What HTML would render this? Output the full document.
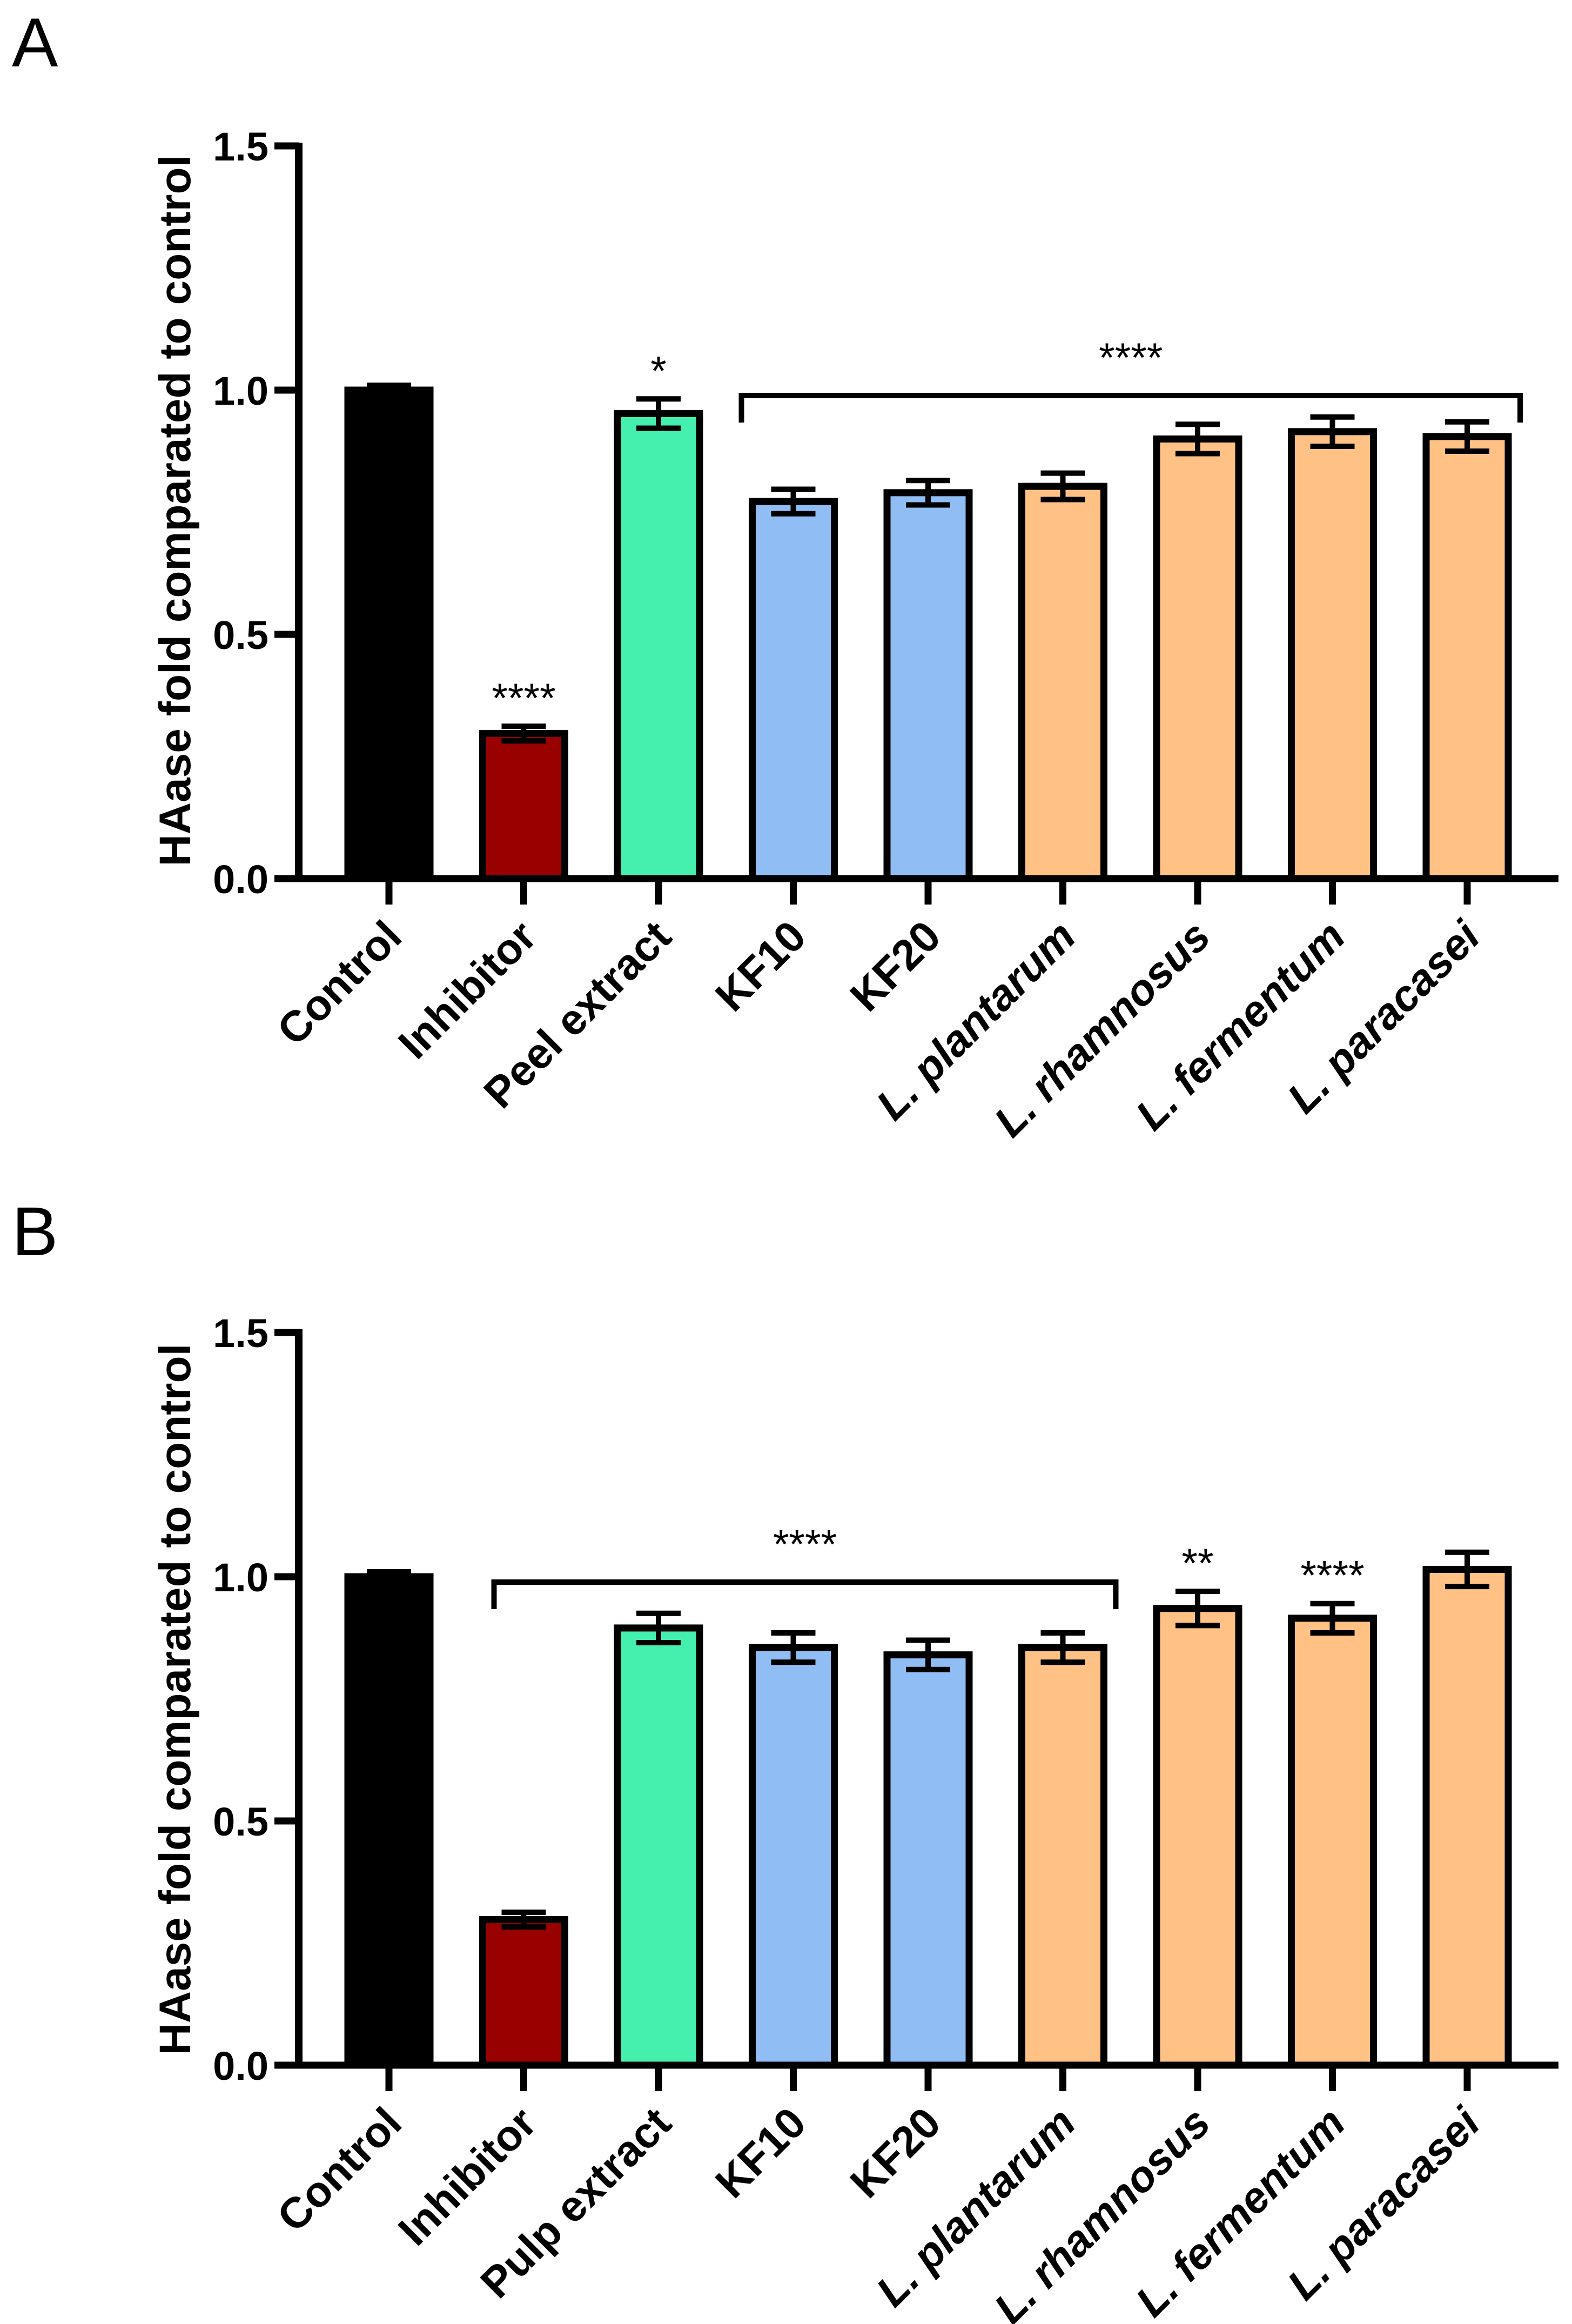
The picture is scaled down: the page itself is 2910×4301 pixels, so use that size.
<!DOCTYPE html>
<html><head><meta charset="utf-8"><style>
html,body{margin:0;padding:0;background:#fff;}
svg{display:block;}
text{font-family:"Liberation Sans",Arial,sans-serif;}
</style></head><body>
<svg id="fig" width="2910" height="4301" viewBox="0 0 2910 4301" xmlns="http://www.w3.org/2000/svg">
<rect width="2910" height="4301" fill="#fff"/>
<text x="22" y="123" font-size="128">A</text>
<text x="22" y="2323" font-size="128">B</text>
</svg>
<script>
const categoriesA = ["Control","Inhibitor","Peel extract","KF10","KF20","L. plantarum","L. rhamnosus","L. fermentum","L. paracasei"];
const categoriesB = ["Control","Inhibitor","Pulp extract","KF10","KF20","L. plantarum","L. rhamnosus","L. fermentum","L. paracasei"];
const italicFlags = [false,false,false,false,false,true,true,true,true];
const valuesA = [1.0,0.297,0.952,0.772,0.79,0.803,0.9,0.915,0.905];
const errorsA = [0.01,0.015,0.03,0.025,0.025,0.027,0.03,0.03,0.03];
const valuesB = [1.0,0.298,0.895,0.855,0.84,0.855,0.935,0.915,1.015];
const errorsB = [0.01,0.015,0.03,0.03,0.03,0.03,0.035,0.03,0.035];
const barColors = ["#000000","#990000","#45EFAE","#90BDF4","#90BDF4","#FFC184","#FFC184","#FFC184","#FFC184"];
const yTicks = [0,0.5,1.0,1.5];
const yTickLabels = ["0.0","0.5","1.0","1.5"];
const sigA = [{i:1,t:"****"},{i:2,t:"*"}];
const bracketA = {from:3,to:8,level:1.0,t:"****"};
const sigB = [{i:6,t:"**"},{i:7,t:"****"}];
const bracketB = {from:1,to:5,level:1.0,t:"****"};

const NS="http://www.w3.org/2000/svg";
const svg=document.getElementById('fig');
function mk(tag,attrs,parent){const e=document.createElementNS(NS,tag);for(const k in attrs)e.setAttribute(k,attrs[k]);(parent||svg).appendChild(e);return e;}

function drawPanel(id,y0,cats,vals,errs,sig,br,titleCy,brL,brR){
  const K=904;
  const yS=v=>y0-v*K;
  const xS=i=>720+i*249.5;
  const g=mk('g',{});
  
  
  vals.forEach((v,i)=>{
    const w=152;
    const r=mk('rect',{x:xS(i)-w/2,y:yS(v),width:w,height:y0-yS(v),fill:barColors[i],stroke:'#000','stroke-width':13},g);
    
    
    const e=errs[i],cx=xS(i);
    const eb=mk('path',{d:`M${cx-41} ${yS(v+e)}H${cx+41}M${cx} ${yS(v+e)}V${yS(v-e)}M${cx-41} ${yS(v-e)}H${cx+41}`,stroke:'#000','stroke-width':10,fill:'none'},g);
    
    
  });
  const ya=mk('line',{x1:553,y1:yS(1.5)-6,x2:553,y2:y0+6,stroke:'#000','stroke-width':14},g);
  
  
  const xa=mk('line',{x1:546,y1:y0,x2:2885,y2:y0,stroke:'#000','stroke-width':13},g);
  
  
  yTicks.forEach((t,j)=>{
    mk('line',{x1:508,y1:yS(t),x2:553,y2:yS(t),stroke:'#000','stroke-width':13},g);
    const tl=mk('text',{x:497,y:yS(t)+27,'font-size':74,'font-weight':'bold','text-anchor':'end'},g);
    tl.textContent=yTickLabels[j];
    
    
  });
  cats.forEach((c,i)=>{
    mk('line',{x1:xS(i),y1:y0,x2:xS(i),y2:y0+48,stroke:'#000','stroke-width':13},g);
    const x=xS(i)+28,y=y0+112;
    const tl=mk('text',{x:x,y:y,'font-size':80,'font-weight':'bold','text-anchor':'end',transform:`rotate(-45 ${x} ${y})`},g);
    if(italicFlags[i]) tl.setAttribute('font-style','italic');
    tl.textContent=c;
    
    
  });
  const tt=mk('text',{x:0,y:0,'font-size':82,'font-weight':'bold','text-anchor':'middle',transform:`translate(352 ${titleCy}) rotate(-90)`},g);
  tt.textContent='HAase fold comparated to control';
  
  
  sig.forEach(s=>{
    const top=yS(vals[s.i]+errs[s.i]);
    const st=mk('text',{x:xS(s.i),y:top-26,'font-size':76,'text-anchor':'middle'},g);
    st.textContent=s.t;
    
    
  });
  const bx1=xS(br.from)-brL,bx2=xS(br.to)+brR,by=yS(br.level)+10;
  const bp=mk('path',{d:`M${bx1} ${by+50}V${by}H${bx2}V${by+50}`,stroke:'#000','stroke-width':10,fill:'none'},g);
  
  
  const bt=mk('text',{x:(bx1+bx2)/2,y:by-44,'font-size':76,'text-anchor':'middle'},g);
  bt.textContent=br.t;
  
  
}
drawPanel('a',1626,categoriesA,valuesA,errorsA,sigA,bracketA,945,96,98);
drawPanel('b',3822,categoriesB,valuesB,errorsB,sigB,bracketB,3145,55,98);
</script>
</body></html>
